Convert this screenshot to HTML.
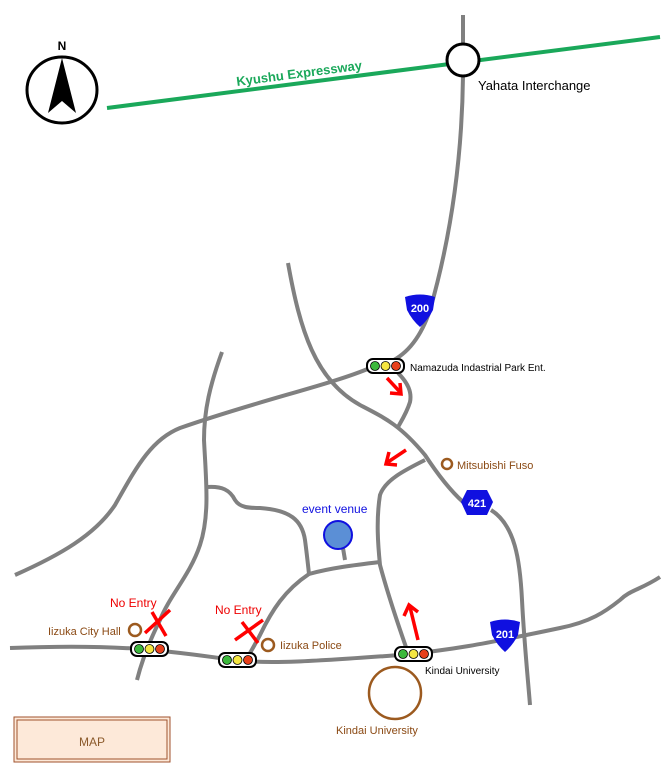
<!DOCTYPE html>
<html><head><meta charset="utf-8"><style>
html,body{margin:0;padding:0;background:#fff;}
svg{display:block;font-family:"Liberation Sans",sans-serif;}
</style></head><body>
<svg width="666" height="769" viewBox="0 0 666 769" xmlns="http://www.w3.org/2000/svg">
<defs>
<g id="sig">
<rect x="0" y="0" width="37" height="14" rx="6" fill="#fff" stroke="#000" stroke-width="2"/>
<circle cx="8" cy="7" r="4.5" fill="#3cb83c" stroke="#000" stroke-width="0.8"/>
<circle cx="18.5" cy="7" r="4.5" fill="#f5e642" stroke="#000" stroke-width="0.8"/>
<circle cx="29" cy="7" r="4.5" fill="#e8401c" stroke="#000" stroke-width="0.8"/>
</g>
</defs>
<g fill="none" stroke="#808080" stroke-width="4" stroke-linecap="butt" stroke-linejoin="round">
<path d="M463,15 L463,44"/>
<path d="M463,76 C462,160 450,240 430,310 C420,340 405,355 390,362"/>
<path d="M370,368 C330,385 260,400 180,428 C150,440 135,470 115,505 C95,535 60,555 15,575"/>
<path d="M288,263 C300,330 315,380 360,405 C385,418 400,425 425,455 C440,478 452,492 463,502"/>
<path d="M491,510 C515,525 520,560 522,600 C524,640 528,680 530,705"/>
<path d="M398,373 C408,383 412,392 410,402 C407,412 402,420 398,427"/>
<path d="M425,460 C405,470 385,480 380,495 C376,520 378,545 380,565 C388,595 400,630 407,650"/>
<path d="M222,352 C210,385 204,410 204,440 C206,480 210,515 200,545 C190,575 170,595 160,620 C150,640 142,660 137,680"/>
<path d="M207,487 C222,486 230,490 235,500 C240,508 250,508 260,508 C290,510 302,520 305,540 C307,555 308,565 309,574"/>
<path d="M309,574 C330,568 355,565 380,562"/>
<path d="M345,560 L343,548"/>
<path d="M309,574 C285,590 272,610 260,635 C252,650 246,660 242,667"/>
<path d="M10,648 C60,646 100,646 140,649 C180,652 210,657 235,660 C270,665 330,660 400,655 C450,650 480,645 560,628 C590,622 605,612 620,600 C630,590 640,590 660,577"/>
</g>
<line x1="107" y1="108" x2="660" y2="37" stroke="#1aa85a" stroke-width="4"/>
<text x="237" y="86" fill="#1aa85a" font-size="13" font-weight="bold" transform="rotate(-7.5 237 86)">Kyushu Expressway</text>
<circle cx="463" cy="60" r="16" fill="#fff" stroke="#000" stroke-width="3"/>
<text x="478" y="90" font-size="13" fill="#000">Yahata Interchange</text>
<ellipse cx="62" cy="90" rx="35" ry="33" fill="#fff" stroke="#000" stroke-width="3"/>
<polygon points="62,58 48,113 62,101 76,113" fill="#000"/>
<text x="62" y="50" font-size="12" font-weight="bold" text-anchor="middle">N</text>
<path d="M405,297 Q420,292 435,297 L433,310 Q428,320 420,327 Q412,320 407,310 Z" fill="#1010e0"/>
<text x="420" y="312" font-size="11" font-weight="bold" fill="#fff" text-anchor="middle">200</text>
<polygon points="467,490 487,490 493,502 487,515 467,515 461,502" fill="#1010e0"/>
<text x="477" y="507" font-size="11" font-weight="bold" fill="#fff" text-anchor="middle">421</text>
<path d="M490,622 Q505,617 520,622 L518,635 Q513,645 505,652 Q497,645 492,635 Z" fill="#1010e0"/>
<text x="505" y="638" font-size="11" font-weight="bold" fill="#fff" text-anchor="middle">201</text>
<use href="#sig" transform="translate(367,359)"/>
<use href="#sig" transform="translate(131,642)"/>
<use href="#sig" transform="translate(219,653)"/>
<use href="#sig" transform="translate(395,647)"/>
<text x="410" y="371" font-size="10" fill="#000">Namazuda Indastrial Park Ent.</text>
<text x="425" y="674" font-size="10" fill="#000">Kindai University</text>
<g stroke="#f00" stroke-width="3.5" fill="none">
<path d="M387,378 L400,392"/><path d="M390,393 L401,394 L400,383"/>
<path d="M406,450 L388,462"/><path d="M389,452 L386,464 L397,465"/>
<path d="M418,640 L410,607"/><path d="M404,616 L409,605 L418,612"/>
<path d="M145,633 L170,610 M152,612 L166,636"/>
<path d="M235,640 L263,620 M242,622 L258,643"/>
</g>
<text x="110" y="607" font-size="12" fill="#e00">No Entry</text>
<text x="215" y="614" font-size="12" fill="#e00">No Entry</text>
<g fill="none" stroke="#9c5a1f" stroke-width="2.5">
<circle cx="135" cy="630" r="6"/>
<circle cx="268" cy="645" r="6"/>
<circle cx="447" cy="464" r="5"/>
<circle cx="395" cy="693" r="26"/>
</g>
<g fill="#8b4a14" font-size="11">
<text x="48" y="635">Iizuka City Hall</text>
<text x="280" y="649">Iizuka Police</text>
<text x="457" y="469">Mitsubishi Fuso</text>
<text x="336" y="734">Kindai University</text>
</g>
<circle cx="338" cy="535" r="14" fill="#5b8fd6" stroke="#1010e0" stroke-width="2"/>
<text x="302" y="513" font-size="12" fill="#1010e0">event venue</text>
<rect x="14" y="717" width="156" height="45" fill="#fde9d9" stroke="#a0522d" stroke-width="1"/>
<rect x="17" y="720" width="150" height="39" fill="none" stroke="#a0522d" stroke-width="1"/>
<text x="92" y="746" font-size="12" fill="#8b5a2b" text-anchor="middle">MAP</text>
</svg>
</body></html>
